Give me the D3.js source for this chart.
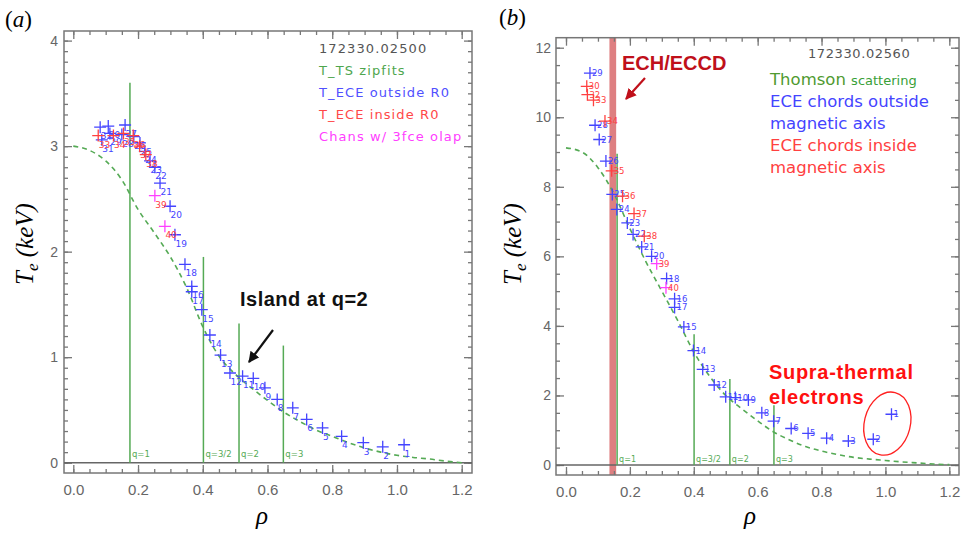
<!DOCTYPE html>
<html>
<head>
<meta charset="utf-8">
<script src="https://cdn.jsdelivr.net/npm/d3@7"></script>
<style>
  body { margin: 0; background: #fff; }
  svg { display: block; }
  .tick text { font-family: "Liberation Sans", Arial, sans-serif; fill: #666; }
</style>
</head>
<body>
<svg id="chart" width="962" height="534"></svg>
<script>
// ---------- panel (a) : 172330.02500 ----------
const aFit = [[0,3.00],[0.05,2.96],[0.1,2.86],[0.15,2.68],[0.2,2.40],[0.25,2.18],[0.3,1.95],[0.35,1.66],
  [0.4,1.29],[0.45,1.01],[0.5,0.84],[0.55,0.71],[0.6,0.59],[0.65,0.48],[0.7,0.39],[0.75,0.31],[0.8,0.25],
  [0.85,0.19],[0.9,0.14],[0.95,0.10],[1.0,0.07],[1.05,0.05],[1.1,0.035],[1.15,0.015],[1.2,0.0]];
const aQ = [["q=1",0.175,3.60],["q=3/2",0.402,1.95],["q=2",0.512,1.32],["q=3",0.649,1.11]];
const aOut = [[1.022,0.17,"1"],[0.956,0.15,"2"],[0.896,0.19,"3"],[0.829,0.25,"4"],[0.770,0.33,"5"],
  [0.721,0.41,"6"],[0.678,0.52,"7"],[0.630,0.60,"8"],[0.592,0.71,"9"],[0.556,0.80,"10"],[0.523,0.82,"11"],
  [0.484,0.85,"12"],[0.455,1.02,"13"],[0.422,1.21,"14"],[0.397,1.45,"15"],[0.366,1.67,"16"],[0.366,1.62,"17"],
  [0.345,1.88,"18"],[0.314,2.16,"19"],[0.299,2.43,"20"],[0.268,2.65,"21"],[0.252,2.80,"22"],[0.237,2.86,"23"],
  [0.221,2.95,"24"],[0.206,3.03,"25"],[0.187,3.09,"26"],[0.160,3.20,"27"],[0.150,3.11,"28"],[0.113,3.12,"29"],
  [0.108,3.19,"30"],[0.088,3.06,"31"],[0.083,3.18,"32"]];
const aIn = [[0.077,3.10,"33"],[0.124,3.10,"34"],[0.155,3.12,"35"],[0.185,3.10,"36"],[0.205,3.00,"37"],[0.224,2.92,"38"]];
const aOlap = [[0.252,2.53,"39"],[0.283,2.24,"40"]];
const aXTicks = [0, 0.2, 0.4, 0.6, 0.8, 1.0, 1.2];
const aYTicks = [0, 1, 2, 3, 4];
const aLegend = [["172330.02500","#555"],["T_TS zipfits","#4ea64e"],["T_ECE outside R0","#5050ff"],
  ["T_ECE inside R0","#ff4848"],["Chans w/ 3fce olap","#ff40ff"]];

// ---------- panel (b) : 172330.02560 ----------
const bFit = [[0,9.12],[0.05,9.0],[0.1,8.55],[0.15,7.8],[0.2,6.8],[0.25,5.85],[0.3,5.0],[0.35,4.15],
  [0.4,3.25],[0.45,2.55],[0.5,2.0],[0.55,1.62],[0.6,1.27],[0.65,0.95],[0.7,0.72],[0.75,0.53],[0.8,0.4],
  [0.85,0.3],[0.9,0.22],[0.95,0.17],[1.0,0.13],[1.05,0.09],[1.1,0.06],[1.15,0.03],[1.2,0.01]];
const bQ = [["q=1",0.160,8.95],["q=3/2",0.401,3.76],["q=2",0.513,2.47],["q=3",0.651,1.72]];
const bOut = [[1.019,1.46,"1"],[0.962,0.74,"2"],[0.884,0.69,"3"],[0.816,0.77,"4"],[0.758,0.91,"5"],
  [0.705,1.05,"6"],[0.650,1.26,"7"],[0.613,1.50,"8"],[0.571,1.87,"9"],[0.530,1.94,"10"],[0.500,1.96,"11"],
  [0.464,2.30,"12"],[0.428,2.75,"13"],[0.399,3.29,"14"],[0.369,3.97,"15"],[0.340,4.78,"16"],[0.340,4.53,"17"],
  [0.315,5.36,"18"],[0.268,6.00,"20"],[0.237,6.27,"21"],[0.210,6.63,"22"],[0.192,6.96,"23"],[0.159,7.35,"24"],
  [0.145,7.78,"25"],[0.125,8.74,"26"],[0.104,9.36,"27"],[0.091,9.77,"28"],[0.075,11.27,"29"]];
const bIn = [[0.065,10.89,"30"],[0.067,10.65,"32"],[0.086,10.49,"33"],[0.122,9.89,"34"],[0.143,8.46,"35"],
  [0.177,7.73,"36"],[0.213,7.23,"37"],[0.245,6.58,"38"]];
const bOlap = [[0.284,5.79,"39"],[0.313,5.10,"40"]];
const bXTicks = [0, 0.2, 0.4, 0.6, 0.8, 1.0, 1.2];
const bYTicks = [0, 2, 4, 6, 8, 10, 12];
const bEch = [0.136, 0.157];          // ECH/ECCD deposition band in rho
const bSupra = [1.006, 1.19];         // centre of the supra-thermal ellipse

const green = "#55aa55", blue = "#4444ff", red = "#ff4040", magenta = "#ff40ff";
const svg = d3.select("#chart");

svg.append("defs").selectAll("marker")
  .data([["arrBlack","#111"],["arrRed","#c0101a"]])
  .enter().append("marker")
  .attr("id", d => d[0]).attr("viewBox", "0 0 10 10").attr("refX", 9).attr("refY", 5)
  .attr("markerWidth", 5).attr("markerHeight", 5).attr("orient", "auto")
  .append("path").attr("d", "M0,0L10,5L0,10z").attr("fill", d => d[1]);

function drawPanel(p) {
  const g = svg.append("g");
  const x = d3.scaleLinear().domain([0, 1.2]).range(p.xr);
  const y = d3.scaleLinear().domain([0, p.ymax]).range(p.yr);
  const f = p.frame; // [left, top, right, bottom]

  // ECH band behind everything
  if (p.band) {
    g.append("rect").attr("x", x(p.band[0])).attr("width", x(p.band[1]) - x(p.band[0]))
      .attr("y", f[1]).attr("height", f[3] - f[1]).attr("fill", "#d65f62").attr("opacity", 0.8);
  }

  // frame
  g.append("rect").attr("x", f[0]).attr("y", f[1]).attr("width", f[2] - f[0]).attr("height", f[3] - f[1])
    .attr("fill", "none").attr("stroke", "#777").attr("stroke-width", 1.5);

  const minorX = d3.range(0, 1.2001, 0.05);
  const minorY = d3.range(0, p.ymax + 0.001, p.yminor);
  const inward = (sel, axis, vals, size) => sel.call(axis.tickValues(vals).tickSize(-size).tickFormat(""))
    .call(s => s.select(".domain").remove())
    .call(s => s.selectAll("line").attr("stroke", "#777").attr("stroke-width", 1.3));
  [[d3.axisBottom, f[3], minorX, 4], [d3.axisBottom, f[3], p.xticks, 8],
   [d3.axisTop, f[1], minorX, 4], [d3.axisTop, f[1], p.xticks, 8]].forEach(([ax, yy, v, s]) =>
    inward(g.append("g").attr("transform", `translate(0,${yy})`), ax(x), v, s));
  [[d3.axisLeft, f[0], minorY, 4], [d3.axisLeft, f[0], p.yticks, 8],
   [d3.axisRight, f[2], minorY, 4], [d3.axisRight, f[2], p.yticks, 8]].forEach(([ax, xx, v, s]) =>
    inward(g.append("g").attr("transform", `translate(${xx},0)`), ax(y), v, s));

  // tick labels
  g.append("g").attr("transform", `translate(0,${f[3]})`)
    .call(d3.axisBottom(x).tickValues(p.xticks).tickSize(0).tickPadding(11.5).tickFormat(d3.format(".1f")))
    .call(s => s.select(".domain").remove())
    .selectAll("text").attr("font-size", 15);
  g.append("g").attr("transform", `translate(${f[0]},0)`)
    .call(d3.axisLeft(y).tickValues(p.yticks).tickSize(0).tickPadding(p.ypad).tickFormat(d3.format("d")))
    .call(s => s.select(".domain").remove())
    .selectAll("text").attr("font-size", 14);

  // zero line
  g.append("line").attr("x1", f[0]).attr("x2", f[2]).attr("y1", y(0)).attr("y2", y(0))
    .attr("stroke", "#666").attr("stroke-width", 1.5);

  // q-surface lines
  g.selectAll(".qline").data(p.q).enter().append("line")
    .attr("x1", d => x(d[1])).attr("x2", d => x(d[1])).attr("y1", y(0)).attr("y2", d => y(d[2]))
    .attr("stroke", green).attr("stroke-width", 1.5);
  g.selectAll(".qlab").data(p.q).enter().append("text")
    .attr("x", d => x(d[1]) + 2).attr("y", y(0) - p.qlift)
    .attr("font-family", "DejaVu Sans, sans-serif").attr("font-size", p.qsize).attr("fill", green)
    .text(d => d[0]);

  // Thomson fit (dashed)
  g.append("path").datum(p.fit)
    .attr("d", d3.line().x(d => x(d[0])).y(d => y(d[1])).curve(d3.curveMonotoneX))
    .attr("fill", "none").attr("stroke", green).attr("stroke-width", 1.6).attr("stroke-dasharray", "5,4");

  // ECE crosses
  const arm = p.arm;
  [[p.out, blue, blue], [p.inn, red, red], [p.olap, magenta, red]].forEach(([data, col, lcol]) => {
    const s = g.append("g");
    s.selectAll("path").data(data).enter().append("path")
      .attr("d", d => `M${x(d[0]) - arm},${y(d[1])}H${x(d[0]) + arm}M${x(d[0])},${y(d[1]) - arm}V${y(d[1]) + arm}`)
      .attr("stroke", col).attr("stroke-width", 1.3).attr("fill", "none");
    s.selectAll("text").data(data).enter().append("text")
      .attr("x", d => x(d[0]) + p.lab[0]).attr("y", d => y(d[1]) + p.lab[1])
      .attr("font-family", "DejaVu Sans, sans-serif").attr("font-size", p.lab[2]).attr("fill", lcol)
      .text(d => d[2]);
  });

  // axis titles
  g.append("text").attr("x", p.rhoX).attr("y", 524).attr("text-anchor", "middle")
    .attr("font-family", "Liberation Serif, serif").attr("font-style", "italic").attr("font-size", 25).text("ρ");
  const yl = g.append("text").attr("transform", `translate(${p.teX},244) rotate(-90)`).attr("text-anchor", "middle")
    .attr("font-family", "Liberation Serif, serif").attr("font-style", "italic").attr("font-size", 25);
  yl.append("tspan").text("T");
  yl.append("tspan").attr("font-size", 17).attr("dy", 5).text("e");
  yl.append("tspan").attr("dy", -5).text(" (keV)");

  // panel letter
  const pl = svg.append("text").attr("x", p.letter[0]).attr("y", p.letter[1])
    .attr("font-family", "Liberation Serif, serif").attr("font-size", 23);
  pl.append("tspan").text("(");
  pl.append("tspan").attr("font-style", "italic").text(p.letter[2]);
  pl.append("tspan").text(")");

  return {g, x, y};
}

// ---------- panel (a) ----------
const A = drawPanel({
  xr: [73.3, 461.7], yr: [462.7, 40.6], ymax: 4, yminor: 0.1, frame: [64, 31, 472, 473],
  xticks: aXTicks, yticks: aYTicks, ypad: 6, q: aQ, qlift: 6, qsize: 8.5, fit: aFit,
  out: aOut, inn: aIn, olap: aOlap, arm: 6, lab: [0.5, 12, 9],
  rhoX: 262, teX: 33, letter: [5, 27, "a"]
});
A.g.selectAll(".leg").data(aLegend).enter().append("text")
  .attr("x", 319).attr("y", (d, i) => 53 + i * 22)
  .attr("font-family", "DejaVu Sans, sans-serif").attr("font-size", 13).attr("letter-spacing", 1.1)
  .attr("fill", d => d[1]).text(d => d[0]);
A.g.append("text").attr("x", 240).attr("y", 306)
  .attr("font-family", "Liberation Sans, Arial, sans-serif").attr("font-weight", "bold")
  .attr("font-size", 20).attr("letter-spacing", 0.5).attr("fill", "#111").text("Island at q=2");
A.g.append("line").attr("x1", 273).attr("y1", 330).attr("x2", 249).attr("y2", 362)
  .attr("stroke", "#111").attr("stroke-width", 2.2).attr("marker-end", "url(#arrBlack)");

// ---------- panel (b) ----------
const B = drawPanel({
  xr: [566, 949.3], yr: [465, 47.7], ymax: 12, yminor: 0.5, frame: [556, 37.7, 959, 475],
  xticks: bXTicks, yticks: bYTicks, ypad: 5, q: bQ, qlift: 3, qsize: 8, fit: bFit,
  out: bOut, inn: bIn, olap: bOlap, arm: 6, lab: [2, 3, 8.5], band: bEch,
  rhoX: 750, teX: 521, letter: [499, 25, "b"]
});
B.g.append("text").attr("x", 808).attr("y", 58).attr("font-family", "DejaVu Sans, sans-serif")
  .attr("font-size", 13).attr("letter-spacing", 0.6).attr("fill", "#555").text("172330.02560");
const th = B.g.append("text").attr("x", 770).attr("y", 85).attr("font-family", "DejaVu Sans, sans-serif").attr("fill", "#4f9a30");
th.append("tspan").attr("font-size", 16.5).text("Thomson ");
th.append("tspan").attr("font-size", 13).attr("fill", "#38a038").text("scattering");
[["ECE chords outside", blue, 107], ["magnetic axis", blue, 129], ["ECE chords inside", red, 151], ["magnetic axis", red, 173]]
  .forEach(([t, c, yy]) => B.g.append("text").attr("x", 770).attr("y", yy)
    .attr("font-family", "DejaVu Sans, sans-serif").attr("font-size", 16.5).attr("fill", c).text(t));
B.g.append("text").attr("x", 622).attr("y", 70)
  .attr("font-family", "Liberation Sans, Arial, sans-serif").attr("font-weight", "bold")
  .attr("font-size", 20).attr("fill", "#c0101a").text("ECH/ECCD");
B.g.append("line").attr("x1", 645).attr("y1", 78).attr("x2", 626).attr("y2", 99)
  .attr("stroke", "#c0101a").attr("stroke-width", 2.2).attr("marker-end", "url(#arrRed)");
[["Supra-thermal", 379], ["electrons", 404]].forEach(([t, yy]) =>
  B.g.append("text").attr("x", 769).attr("y", yy)
    .attr("font-family", "Liberation Sans, Arial, sans-serif").attr("font-weight", "bold")
    .attr("font-size", 20).attr("letter-spacing", 0.7).attr("fill", "#ff1010").text(t));
B.g.append("ellipse").attr("cx", B.x(bSupra[0])).attr("cy", B.y(bSupra[1])).attr("rx", 23).attr("ry", 32)
  .attr("transform", `rotate(14,${B.x(bSupra[0])},${B.y(bSupra[1])})`)
  .attr("fill", "none").attr("stroke", "#ff2020").attr("stroke-width", 1.3);
</script>
</body>
</html>
